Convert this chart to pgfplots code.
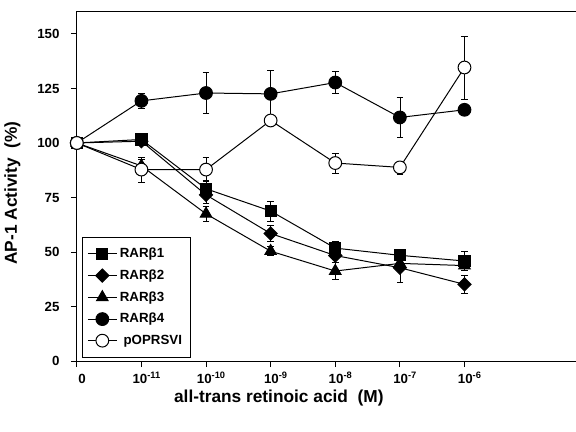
\documentclass[border=0pt]{standalone}
\usepackage{fontspec}
\setmainfont{Liberation Sans}
\usepackage{pgfplots}
\pgfplotsset{compat=1.18}

\begin{document}
\begin{tikzpicture}
\begin{axis}[
  scale only axis,
  width=375pt, height=263.25pt,
  xmin=0, xmax=7.72, ymin=0, ymax=160.5,
  clip=false,
  axis x line*=bottom, axis y line*=left,
  axis line style={-, line width=0.6pt},
  tick align=outside,
  major tick length=4.5pt,
  tick style={black, line width=0.6pt},
  xtick={0,1,2,3,4,5,6},
  xticklabels={0,10\textsuperscript{-11},10\textsuperscript{-10},10\textsuperscript{-9},10\textsuperscript{-8},10\textsuperscript{-7},10\textsuperscript{-6}},
  xticklabel style={font=\bfseries\fontsize{10}{12}\selectfont, text height=11.5pt, text depth=0pt, xshift=4pt, yshift=2.5pt},
  ytick={0,25,50,75,100,125,150},
  yticklabel style={font=\bfseries\fontsize{10}{12}\selectfont, /pgf/number format/assume math mode=true, xshift=-5pt},
  xlabel={\bfseries all-trans retinoic acid\ \ (M)},
  ylabel={\bfseries AP-1 Activity\ \ (\%)},
  label style={font=\bfseries\fontsize{13}{15}\selectfont},
  xlabel style={at={(axis description cs:0.405,0)}, anchor=base, yshift=-31pt},
  ylabel style={at={(axis description cs:0,0.48)}, anchor=base, yshift=45pt},
  legend style={at={(rel axis cs:0.01,0.011)}, anchor=south west,
    font=\bfseries\fontsize{10}{12}\selectfont, draw=black, line width=0.5pt,
    row sep=3.6pt, inner xsep=4pt, inner ysep=6pt, cells={anchor=west}},
  legend image code/.code={\draw[mark repeat=2,mark phase=2] plot coordinates {(0cm,0cm) (0.38cm,0cm) (0.76cm,0cm)};},
  error bars/error bar style={line width=0.5pt},
  error bars/error mark options={rotate=90, mark size=2.5pt, line width=0.5pt},
]
% RARb1
\addplot[black, line width=0.75pt, mark=square*, mark size=4.2pt, mark options={fill=black, solid},
  error bars/.cd, y dir=both, y explicit] coordinates {
  (0,100) (1,101.6) (2,79.0) +- (0,4) (3,68.8) +- (0,4.6) (4,51.8) +- (0,3)
  (5,48.5) +- (0,2) (6,45.9) +- (0,4.3)
};
% RARb2
\addplot[black, line width=0.75pt, mark=square*, mark size=3.5pt, mark options={fill=black, solid, rotate=45},
  error bars/.cd, y dir=both, y explicit] coordinates {
  (0,100) (1,100.8) (2,76.2) +- (0,4) (3,58.5) +- (0,3.8) (4,48.4) +- (0,3)
  (5,42.8) +- (0,6.5) (6,35.2) +- (0,4.3)
};
% RARb3
\addplot[black, line width=0.75pt, mark=triangle*, mark size=5pt, mark options={fill=black, solid},
  error bars/.cd, y dir=both, y explicit] coordinates {
  (0,100) (1,89.5) +- (0,3) (2,67.5) +- (0,3.3) (3,50.4) +- (0,2) (4,41.3) +- (0,4)
  (5,44.8) +- (0,2) (6,43.8) +- (0,2)
};
% RARb4
\addplot[black, line width=0.75pt, mark=*, mark size=4.8pt, mark options={fill=black, solid},
  error bars/.cd, y dir=both, y explicit] coordinates {
  (0,100) (1,119.3) +- (0,3.3) (2,122.9) +- (0,9.4) (3,122.5) +- (0,11)
  (4,127.7) +- (0,5) (5,111.7) +- (0,9.2) (6,115.2) +- (0,1.5)
};
% pOPRSVI
\addplot[black, line width=0.75pt, mark=*, mark size=4.8pt, mark options={fill=white, solid},
  error bars/.cd, y dir=both, y explicit] coordinates {
  (0,100) (1,87.8) +- (0,5.8) (2,87.8) +- (0,5.5) (3,110.3) +- (0,2)
  (4,90.8) +- (0,4.5) (5,88.8) +- (0,3) (6,134.6) +- (0,14.5)
};
\legend{RARβ1,RARβ2,RARβ3,RARβ4,\ pOPRSVI}
\draw[line width=0.6pt] (rel axis cs:0,1) -- (rel axis cs:1,1);
\path (rel axis cs:0,0) ++(-57pt,-53.25pt) rectangle ([yshift=8.25pt]rel axis cs:1,1);
\end{axis}
\end{tikzpicture}
\end{document}
